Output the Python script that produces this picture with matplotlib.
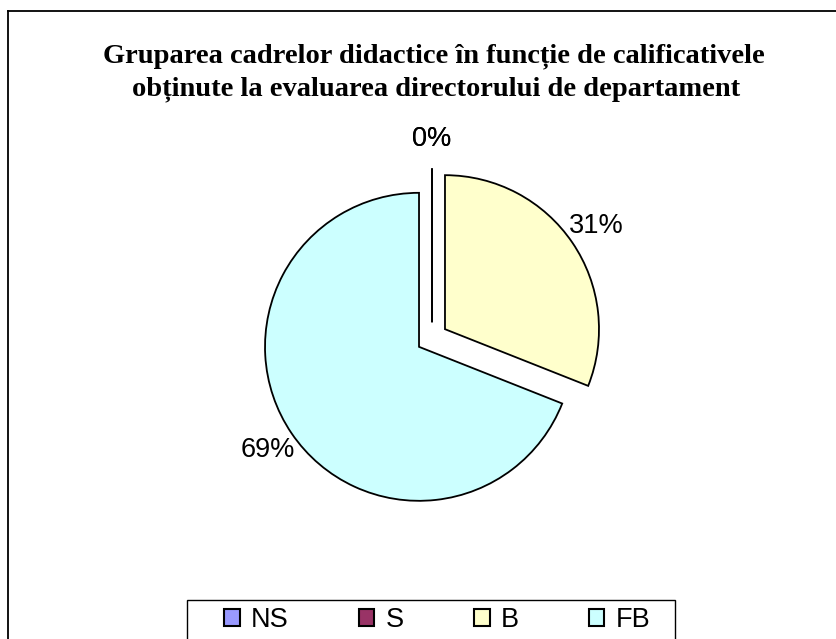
import matplotlib
matplotlib.use("Agg")
import matplotlib.pyplot as plt
from matplotlib.patches import Patch, Rectangle
from matplotlib.lines import Line2D

# data
categories = ["NS", "S", "B", "FB"]
values = [0, 0, 31, 69]
colors = ["#9999FF", "#993366", "#FFFFCC", "#CCFFFF"]
title_lines = ["Gruparea cadrelor didactice în funcție de calificativele",
               "obținute la evaluarea directorului de departament"]

W, H = 836, 639
fig = plt.figure(figsize=(W / 100, H / 100), dpi=100)
fig.patch.set_facecolor("white")

# axes in pixel units, y going up
ax = fig.add_axes([0, 0, 1, 1])

wedges, texts, autotexts = ax.pie(
    values, colors=colors, explode=[15.7] * len(values),
    center=(432, H - 338), radius=154, startangle=90, counterclock=False,
    autopct="%.0f%%", pctdistance=1.19, labeldistance=None,
    wedgeprops=dict(edgecolor="black", linewidth=1.3),
    textprops=dict(fontsize=19.5, family="Liberation Sans", color="black"),
    frame=True)
ax.set_xlim(0, W)
ax.set_ylim(0, H)
ax.set_aspect("equal")
ax.axis("off")

# title
fig.text(434 / W, 1 - 62 / H, title_lines[0], ha="center", va="baseline",
         fontsize=20.5, fontweight="bold", family="Liberation Serif")
fig.text(436 / W, 1 - 95 / H, title_lines[1], ha="center", va="baseline",
         fontsize=20.5, fontweight="bold", family="Liberation Serif")

# outer border (top and left visible)
fig.add_artist(Line2D([8 / W, 8 / W], [0, 1 - 11 / H], color="black",
                      lw=1.3, transform=fig.transFigure))
fig.add_artist(Line2D([8 / W, 1], [1 - 11 / H, 1 - 11 / H], color="black",
                      lw=1.3, transform=fig.transFigure))

# legend box (runs off the bottom)
fig.add_artist(Rectangle((187 / W, -0.05), (675 - 187) / W, 0.05 + 1 - 600 / H,
                         transform=fig.transFigure, facecolor="white",
                         edgecolor="black", lw=1.0))
handles = [Patch(facecolor=c, edgecolor="black", linewidth=1.5) for c in colors]
fig.legend(handles, categories, loc="center left",
           bbox_to_anchor=(224 / W, 1 - 620 / H), ncol=4, frameon=False,
           borderpad=0, borderaxespad=0, handlelength=0.58, handleheight=0.58,
           handletextpad=0.4, columnspacing=2.6,
           prop=dict(family="Liberation Sans", size=19.5))

fig.savefig("out.png", dpi=100)
